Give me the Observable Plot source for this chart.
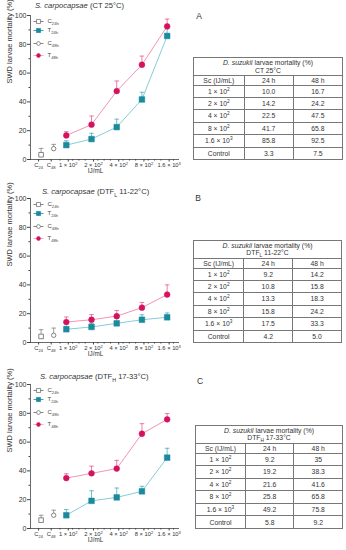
<!DOCTYPE html>
<html><head><meta charset="utf-8">
<script src="https://cdn.jsdelivr.net/npm/d3@7"></script>
<script src="https://cdn.jsdelivr.net/npm/@observablehq/plot@0.6"></script>
<style>
body{margin:0;background:#fff;}
#root{position:relative;width:346px;height:550px;overflow:hidden;font-family:"Liberation Sans",Arial,sans-serif;color:#333;}
.title{position:absolute;font-size:7.6px;white-space:nowrap;transform:translateY(-50%);line-height:1;}
.letter{position:absolute;font-size:8.5px;transform:translate(-50%,-50%);line-height:1;}
table.tbl{position:absolute;border-collapse:collapse;font-size:6.8px;table-layout:fixed;color:#333;}
table.tbl td{border:0.8px solid #777;text-align:center;padding:0;line-height:1.05;white-space:nowrap;overflow:hidden;}
sub,sup{font-size:70%;line-height:0;}
svg.chart{position:absolute;left:0;overflow:visible;}
</style></head><body><div id="root"></div>
<script>
// ---------- data ----------
const concLabels = ["1 × 10^{2}", "2 × 10^{2}", "4 × 10^{2}", "8 × 10^{2}", "1.6 × 10^{3}"];
const ctrlLabels = ["C_{24}", "C_{48}"];
const legendLabels = ["C_{24h}", "T_{24h}", "C_{48h}", "T_{48h}"];
const conditions = ["CT 25°C", "DTF_{L} 11-22°C", "DTF_{H} 17-33°C"];
const panelLetters = ["A", "B", "C"];

const ctT24 = ["10.0", "14.2", "22.5", "41.7", "85.8"];
const ctT48 = ["16.7", "24.2", "47.5", "65.8", "92.5"];
const ctCtrl = ["3.3", "7.5"];
const ctT24Err = [3, 4, 5.5, 5, 5];
const ctT48Err = [2.6, 6, 7, 6, 5];
const ctCtrlErr = [4.4, 3];

const lowT24 = ["9.2", "10.8", "13.3", "15.8", "17.5"];
const lowT48 = ["14.2", "15.8", "18.3", "24.2", "33.3"];
const lowCtrl = ["4.2", "5.0"];
const lowT24Err = [2, 2.5, 3.5, 3.5, 3];
const lowT48Err = [3.5, 3.6, 3.9, 3.6, 6.7];
const lowCtrlErr = [4.7, 5];

const highT24 = ["9.2", "19.2", "21.6", "25.8", "49.2"];
const highT48 = ["35", "38.3", "41.6", "65.8", "75.8"];
const highCtrl = ["5.8", "9.2"];
const highT24Err = [4, 7, 6.5, 3.5, 6.5];
const highT48Err = [3, 5, 5.7, 7, 4];
const highCtrlErr = [3.4, 3.5];

// ---------- layout ----------
const layout = [
  {svgTop: 0,   title: [35, 6],   letter: [199, 16],  table: [193, 57, 150, 102]},
  {svgTop: 183, title: [42, 192], letter: [198, 198], table: [193, 240, 149, 102]},
  {svgTop: 369, title: [40, 377], letter: [200, 381], table: [195, 425, 148, 103]}
];
const series = [
  {t24: ctT24, t48: ctT48, ctrl: ctCtrl, e24: ctT24Err, e48: ctT48Err, ec: ctCtrlErr},
  {t24: lowT24, t48: lowT48, ctrl: lowCtrl, e24: lowT24Err, e48: lowT48Err, ec: lowCtrlErr},
  {t24: highT24, t48: highT48, ctrl: highCtrl, e24: highT24Err, e48: highT48Err, ec: highCtrlErr}
];

const COL = {
  t24: "#1a8a9c", t24line: "#86cdd8", t24err: "#4fb0c0",
  t48: "#d5125e", t48line: "#f393b8", t48err: "#ea5f93",
  ctrl: "#666", ctrlErr: "#888", axis: "#444"
};

const ns = "http://www.w3.org/2000/svg";
const hline = (h) => ({draw(ctx) { ctx.moveTo(-h, 0); ctx.lineTo(h, 0); }});
const toHtml = (s) => s.replace(/_\{([^}]*)\}/g, "<sub>$1</sub>").replace(/\^\{([^}]*)\}/g, "<sup>$1</sup>");

function richify(root) {
  root.querySelectorAll("text").forEach(t => {
    const s = t.textContent;
    if (!/[_^]\{/.test(s)) return;
    while (t.firstChild) t.removeChild(t.firstChild);
    let shifted = 0;
    const add = (txt, shift) => {
      if (!txt) return;
      const ts = document.createElementNS(ns, "tspan");
      ts.textContent = txt;
      const dy = shift - shifted;
      if (dy) ts.setAttribute("dy", dy + "px");
      if (shift) ts.setAttribute("font-size", "70%");
      t.appendChild(ts);
      shifted = shift;
    };
    const re = /([_^])\{([^}]*)\}/g;
    let last = 0, m;
    while ((m = re.exec(s))) {
      add(s.slice(last, m.index), 0);
      add(m[2], m[1] === "_" ? 2 : -2.4);
      last = re.lastIndex;
    }
    if (last < s.length) add(s.slice(last), 0);
  });
}

function makeChart(p) {
  const t24 = p.t24.map((v, i) => ({x: i + 1, y: +v, e: p.e24[i]}));
  const t48 = p.t48.map((v, i) => ({x: i + 1, y: +v, e: p.e48[i]}));
  const ctrl = p.ctrl.map((v, i) => ({x: i * 0.5, y: +v, e: p.ec[i]}));
  const ctrlPos = ctrl.map(d => d.x);
  const concPos = t24.map(d => d.x);
  const ctrlMap = new Map(ctrlPos.map((x, i) => [x, ctrlLabels[i]]));
  const concMap = new Map(concPos.map((x, i) => [x, concLabels[i]]));
  const minorX = d3.range(0.75, 5.3, 0.25).filter(v => !concPos.includes(v));
  const legendStyle = [
    {line: COL.ctrl, sym: "square", fill: "white", stroke: COL.ctrl},
    {line: COL.t24, sym: "square", fill: COL.t24, stroke: COL.t24},
    {line: COL.ctrl, sym: "circle", fill: "white", stroke: COL.ctrl},
    {line: COL.t48line, sym: "circle", fill: COL.t48, stroke: COL.t48}
  ];
  const legendDy = [6, 15, 28, 40];
  const legendMarks = legendLabels.flatMap((lab, i) => {
    const st = legendStyle[i];
    return [
      Plot.dot([0], {frameAnchor: "top-left", dx: 8, dy: legendDy[i], symbol: hline(5), r: 3, fill: "none", stroke: st.line, strokeWidth: 0.8}),
      Plot.dot([0], {frameAnchor: "top-left", dx: 8, dy: legendDy[i], symbol: st.sym, r: st.sym === "square" ? 2.3 : 1.9, fill: st.fill, stroke: st.stroke, strokeWidth: 0.7}),
      Plot.text([lab], {frameAnchor: "top-left", dx: 17, dy: legendDy[i], textAnchor: "start", lineAnchor: "middle", fontSize: 6, fill: "#444"})
    ];
  });
  const errMarks = (data, col) => [
    Plot.ruleX(data, {x: "x", y1: "y", y2: d => d.y + d.e, stroke: col, strokeWidth: 0.8}),
    Plot.dot(data, {x: "x", y: d => d.y + d.e, symbol: hline(2.3), r: 2, fill: "none", stroke: col, strokeWidth: 0.8})
  ];
  return Plot.plot({
    width: 180, height: 181, marginLeft: 30, marginRight: 2, marginTop: 15, marginBottom: 22,
    style: {fontFamily: "Liberation Sans, Arial, sans-serif", fontSize: "7px", color: "#333", background: "transparent", overflow: "visible"},
    x: {domain: [-0.42, 5.45]},
    y: {domain: [0, 100]},
    marks: [
      Plot.axisY({ticks: [0, 20, 40, 60, 80, 100], tickSize: 3, tickPadding: 1, label: null, stroke: COL.axis}),
      Plot.axisY({ticks: [10, 30, 50, 70, 90], tickSize: 1.5, fill: "none", label: null, stroke: COL.axis}),
      Plot.axisX({ticks: ctrlPos, tickFormat: d => ctrlMap.get(d), tickSize: 2.5, tickPadding: 1, label: null, stroke: COL.axis, fontSize: 5.8, dx: -2.5}),
      Plot.axisX({ticks: concPos, tickFormat: d => concMap.get(d), tickSize: 2.5, tickPadding: 1, label: null, stroke: COL.axis, fontSize: 5.8, dx: 2}),
      Plot.axisX({ticks: minorX, tickSize: 1.5, fill: "none", label: null, stroke: COL.axis}),
      Plot.frame({anchor: "left", stroke: COL.axis, strokeWidth: 0.8}),
      Plot.frame({anchor: "bottom", stroke: COL.axis, strokeWidth: 0.8}),
      Plot.text(["SWD larvae mortality (%)"], {frameAnchor: "left", rotate: -90, dx: -21, dy: -4, fontSize: 7.5, fill: "#333"}),
      Plot.text(["IJ/mL"], {frameAnchor: "bottom", dx: -9, dy: 13.5, fontSize: 6.3, fill: "#333"}),
      Plot.line(t24, {x: "x", y: "y", stroke: COL.t24line, strokeWidth: 1}),
      Plot.line(t48, {x: "x", y: "y", stroke: COL.t48line, strokeWidth: 1}),
      ...errMarks(ctrl, COL.ctrlErr),
      ...errMarks(t24, COL.t24err),
      ...errMarks(t48, COL.t48err),
      Plot.dot(ctrl.slice(0, 1), {x: "x", y: "y", symbol: "square", r: 2.6, fill: "white", stroke: COL.ctrl, strokeWidth: 0.8}),
      Plot.dot(ctrl.slice(1), {x: "x", y: "y", symbol: "circle", r: 2.2, fill: "white", stroke: COL.ctrl, strokeWidth: 0.8}),
      Plot.dot(t24, {x: "x", y: "y", symbol: "square", r: 3.2, fill: COL.t24, stroke: COL.t24, strokeWidth: 0.5}),
      Plot.dot(t48, {x: "x", y: "y", symbol: "circle", r: 2.9, fill: COL.t48, stroke: COL.t48, strokeWidth: 0.5}),
      ...legendMarks
    ]
  });
}

function makeTable(p, cond, box) {
  const [left, top, w, h] = box;
  const rows = concLabels.map((c, i) => [toHtml(c), p.t24[i], p.t48[i]]);
  rows.push(["Control", p.ctrl[0], p.ctrl[1]]);
  const headH = 18, colH = 9.5;
  const rowH = (h - headH - colH) / rows.length;
  let html = `<table class="tbl" style="left:${left}px;top:${top}px;width:${w}px;height:${h}px">`;
  html += `<colgroup><col style="width:34%"><col style="width:33%"><col style="width:33%"></colgroup>`;
  html += `<tr style="height:${headH}px"><td colspan="3"><i>D. suzukii</i> larvae mortality (%)<br>${toHtml(cond)}</td></tr>`;
  html += `<tr style="height:${colH}px"><td>Sc (IJ/mL)</td><td>24 h</td><td>48 h</td></tr>`;
  rows.forEach(r => { html += `<tr style="height:${rowH}px"><td>${r[0]}</td><td>${r[1]}</td><td>${r[2]}</td></tr>`; });
  html += `</table>`;
  return html;
}

const root = document.getElementById("root");
series.forEach((p, k) => {
  const L = layout[k];
  const svg = makeChart(p);
  svg.classList.add("chart");
  svg.style.top = L.svgTop + "px";
  richify(svg);
  root.appendChild(svg);
  root.insertAdjacentHTML("beforeend",
    `<div class="title" style="left:${L.title[0]}px;top:${L.title[1]}px"><i>S. carpocapsae</i> (${toHtml(conditions[k])})</div>` +
    `<div class="letter" style="left:${L.letter[0]}px;top:${L.letter[1]}px">${panelLetters[k]}</div>` +
    makeTable(p, conditions[k], L.table));
});
</script></body></html>
